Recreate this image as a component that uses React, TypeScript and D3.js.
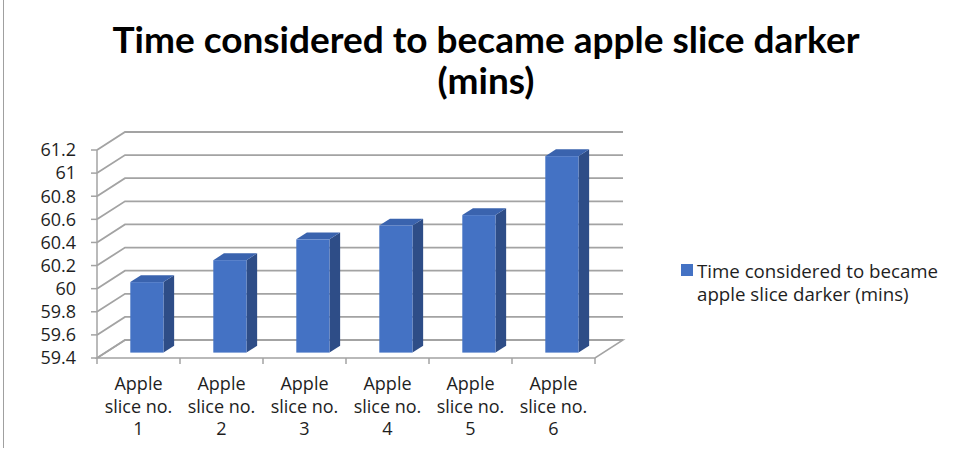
import React from "react";
import * as d3 from "d3";

const categories = ["Apple slice no. 1", "Apple slice no. 2", "Apple slice no. 3", "Apple slice no. 4", "Apple slice no. 5", "Apple slice no. 6"];
const categoryLines = [
  ["Apple", "slice no.", "1"],
  ["Apple", "slice no.", "2"],
  ["Apple", "slice no.", "3"],
  ["Apple", "slice no.", "4"],
  ["Apple", "slice no.", "5"],
  ["Apple", "slice no.", "6"],
];
const values = [60.01, 60.2, 60.38, 60.5, 60.59, 61.1];
const yTicks = [59.4, 59.6, 59.8, 60, 60.2, 60.4, 60.6, 60.8, 61, 61.2];
const seriesName = "Time considered to became apple slice darker (mins)";
const legendLines = ["Time considered to became", "apple slice darker (mins)"];
const titleLines = ["Time considered to became apple slice darker", "(mins)"];

const W = 954;
const H = 455;
const plotLeft = 97;
const plotRight = 595;
const plotTop = 150;
const plotBottom = 358;
const DX = 28;
const DY = -18;
const F0 = 0.3;
const F1 = 0.68;

const FRONT = "#4472C4";
const SIDE = "#2E4D87";
const TOP = "#3A63AE";
const GRID = "#a3a3a3";
const FONT = "'Open Sans', sans-serif";
const TEXT = "#1e1e1e";

export default function App() {
  const x = d3.scaleBand<string>().domain(categories).range([plotLeft, plotRight]);
  const y = d3.scaleLinear().domain([59.4, 61.2]).range([plotBottom, plotTop]);
  const bw = x.bandwidth() * 0.4;
  const base = y.domain()[0];
  const fmt = (v: number) => d3.format("")(+v.toFixed(1));

  const bars = values.map((v, i) => {
    const cx = (x(categories[i]) as number) + x.bandwidth() / 2;
    const x0 = cx - bw / 2 + F0 * DX;
    const x1 = x0 + bw;
    const yt = y(v) + F0 * DY;
    const yb = y(base) + F0 * DY;
    const ddx = (F1 - F0) * DX;
    const ddy = (F1 - F0) * DY;
    return { x0, x1, yt, yb, ddx, ddy, key: i };
  });

  const floor = [
    [plotLeft, plotBottom],
    [plotRight, plotBottom],
    [plotRight + DX, plotBottom + DY],
    [plotLeft + DX, plotBottom + DY],
  ];

  return (
    <svg width={W} height={H} style={{ position: "absolute", left: 0, top: 0, background: "#fff" }}>
      <rect x={0} y={0} width={W} height={H} fill="#fff" />
      <line x1={3.5} x2={3.5} y1={0} y2={448} stroke="#a0a0a0" strokeWidth={1} />

      {/* title */}
      <text x={486} y={53} textAnchor="middle" fontFamily="Lato, sans-serif" fontWeight={700} fontSize={37} fill="#000">
        {titleLines[0]}
      </text>
      <text x={486} y={94} textAnchor="middle" fontFamily="Lato, sans-serif" fontWeight={700} fontSize={37} fill="#000">
        {titleLines[1]}
      </text>

      {/* floor */}
      <polygon points={floor.map((p) => p.join(",")).join(" ")} fill="#fff" stroke={GRID} strokeWidth={1.5} />

      {/* gridlines: side wall + back wall */}
      {yTicks.map((t) => (
        <polyline
          key={t}
          points={`${plotLeft},${y(t)} ${plotLeft + DX},${y(t) + DY} ${plotRight + DX},${y(t) + DY}`}
          fill="none"
          stroke={GRID}
          strokeWidth={1.8}
        />
      ))}

      {/* y axis */}
      <line x1={plotLeft} x2={plotLeft} y1={plotTop} y2={plotBottom} stroke={GRID} strokeWidth={1.5} />
      {yTicks.map((t) => (
        <g key={"yt" + t}>
          <line x1={plotLeft - 6} x2={plotLeft} y1={y(t)} y2={y(t)} stroke={GRID} strokeWidth={1.5} />
          <text x={76} y={y(t)} dy="0.35em" textAnchor="end" fontFamily={FONT} fontSize={18} fill={TEXT}>
            {fmt(t)}
          </text>
        </g>
      ))}

      {/* x axis ticks */}
      {[...categories.map((c) => x(c) as number), plotRight].map((px, i) => (
        <line key={"xt" + i} x1={px} x2={px} y1={plotBottom} y2={plotBottom + 6} stroke={GRID} strokeWidth={1.5} />
      ))}
      {categoryLines.map((lines, i) => {
        const cx = (x(categories[i]) as number) + x.bandwidth() / 2;
        return (
          <text key={"xl" + i} textAnchor="middle" fontFamily={FONT} fontSize={18} fill={TEXT}>
            {lines.map((l, j) => (
              <tspan key={j} x={cx} y={390 + j * 22.5}>
                {l}
              </tspan>
            ))}
          </text>
        );
      })}

      {/* bars */}
      {bars.map((b) => (
        <g key={"b" + b.key}>
          <polygon
            points={`${b.x1},${b.yt} ${b.x1 + b.ddx},${b.yt + b.ddy} ${b.x1 + b.ddx},${b.yb + b.ddy} ${b.x1},${b.yb}`}
            fill={SIDE}
          />
          <polygon
            points={`${b.x0},${b.yt} ${b.x0 + b.ddx},${b.yt + b.ddy} ${b.x1 + b.ddx},${b.yt + b.ddy} ${b.x1},${b.yt}`}
            fill={TOP}
          />
          <rect x={b.x0} y={b.yt} width={b.x1 - b.x0} height={b.yb - b.yt} fill={FRONT} />
        </g>
      ))}

      {/* legend */}
      <rect x={681} y={264} width={12} height={12} fill={FRONT} />
      <text fontFamily={FONT} fontSize={18.7} fill={TEXT}>
        <tspan x={697} y={278}>{legendLines[0]}</tspan>
        <tspan x={697} y={301}>{legendLines[1]}</tspan>
      </text>
      <title>{seriesName}</title>
    </svg>
  );
}
